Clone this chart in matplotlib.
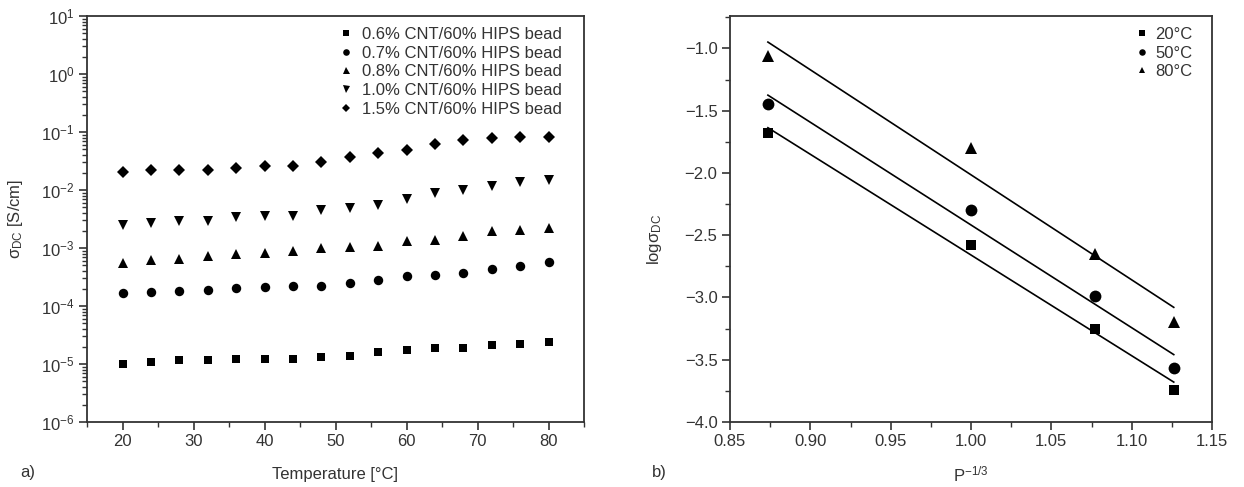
import numpy as np
import matplotlib
matplotlib.use("Agg")
import matplotlib.pyplot as plt
from matplotlib.ticker import MultipleLocator, LogLocator, NullFormatter

plt.rcParams['font.family'] = ['Liberation Sans', 'DejaVu Sans']
plt.rcParams['mathtext.fontset'] = 'custom'
plt.rcParams['mathtext.rm'] = 'Liberation Sans'
plt.rcParams['mathtext.it'] = 'Liberation Sans:italic'
plt.rcParams['font.size'] = 12

TXT = '#333333'

# ---------------- data: panel a ----------------
temperature = [20, 24, 28, 32, 36, 40, 44, 48, 52, 56, 60, 64, 68, 72, 76, 80]
labels_a = ['0.6% CNT/60% HIPS bead', '0.7% CNT/60% HIPS bead', '0.8% CNT/60% HIPS bead',
            '1.0% CNT/60% HIPS bead', '1.5% CNT/60% HIPS bead']
sigma_06 = [1.02e-5, 1.07e-5, 1.16e-5, 1.16e-5, 1.21e-5, 1.23e-5, 1.23e-5, 1.33e-5,
            1.40e-5, 1.62e-5, 1.73e-5, 1.90e-5, 1.90e-5, 2.11e-5, 2.23e-5, 2.42e-5]
sigma_07 = [1.70e-4, 1.77e-4, 1.82e-4, 1.87e-4, 2.02e-4, 2.13e-4, 2.22e-4, 2.22e-4,
            2.53e-4, 2.78e-4, 3.26e-4, 3.40e-4, 3.78e-4, 4.43e-4, 4.80e-4, 5.85e-4]
sigma_08 = [5.62e-4, 6.17e-4, 6.59e-4, 7.14e-4, 7.83e-4, 8.15e-4, 8.71e-4, 9.95e-4,
            1.05e-3, 1.09e-3, 1.33e-3, 1.39e-3, 1.63e-3, 1.93e-3, 2.04e-3, 2.21e-3]
sigma_10 = [2.52e-3, 2.69e-3, 2.96e-3, 2.96e-3, 3.38e-3, 3.51e-3, 3.61e-3, 4.52e-3,
            4.90e-3, 5.59e-3, 6.91e-3, 8.78e-3, 1.00e-2, 1.19e-2, 1.36e-2, 1.46e-2]
sigma_15 = [2.03e-2, 2.17e-2, 2.17e-2, 2.17e-2, 2.38e-2, 2.58e-2, 2.64e-2, 3.02e-2,
            3.78e-2, 4.32e-2, 4.94e-2, 6.10e-2, 7.34e-2, 7.85e-2, 8.17e-2, 8.17e-2]

# ---------------- data: panel b ----------------
p_inv3 = [0.8736, 1.0, 1.0772, 1.1262]
labels_b = ['20°C', '50°C', '80°C']
log_20 = [-1.683, -2.58, -3.25, -3.746]
log_50 = [-1.447, -2.30, -2.99, -3.57]
log_80 = [-1.06, -1.80, -2.65, -3.20]

W, H = 1244, 487
fig = plt.figure(figsize=(W / 100, H / 100), dpi=100)

def px_axes(x0, y0, x1, y1):
    return fig.add_axes([x0 / W, 1 - y1 / H, (x1 - x0) / W, (y1 - y0) / H])

axa = px_axes(87, 16, 584, 422)
axb = px_axes(730, 16, 1212, 422)

def style(ax):
    for s in ax.spines.values():
        s.set_color('#333333')
        s.set_linewidth(1.3)
    ax.tick_params(which='both', direction='out', top=False, right=False,
                   colors='#333333', labelcolor=TXT, labelsize=12)
    ax.tick_params(which='major', length=6, width=1.2, pad=3)
    ax.tick_params(which='minor', length=3.5, width=1.0)

# ---------- panel a ----------
markers_a = [('s', 5.8), ('o', 6.8), ('^', 7.2), ('v', 7.2), ('D', 6.3)]
series_a = [sigma_06, sigma_07, sigma_08, sigma_10, sigma_15]
for vals, (m, ms), lab in zip(series_a, markers_a, labels_a):
    axa.plot(temperature, vals, linestyle='none', marker=m, ms=ms, color='black',
             markeredgewidth=0, label=lab)
axa.set_yscale('log')
axa.set_xlim(15, 85)
axa.set_ylim(1e-6, 1e1)
axa.xaxis.set_major_locator(MultipleLocator(10))
axa.xaxis.set_minor_locator(MultipleLocator(5))
axa.yaxis.set_major_locator(LogLocator(base=10, numticks=20))
axa.yaxis.set_minor_locator(LogLocator(base=10, subs=np.arange(2, 10), numticks=20))
axa.yaxis.set_minor_formatter(NullFormatter())
style(axa)
axa.set_xlabel('Temperature [°C]', color=TXT, fontsize=12)
axa.xaxis.set_label_coords(0.5, -0.11)
axa.set_ylabel(r'σ$_{\mathrm{DC}}$ [S/cm]', color=TXT, fontsize=12)
axa.yaxis.set_label_coords(-0.124, 0.5)
axa.legend(loc='upper right', bbox_to_anchor=(0.956, 0.973), frameon=False,
           borderaxespad=0, borderpad=0, labelspacing=0.22, handlelength=1.0,
           handletextpad=0.5, markerscale=0.7, fontsize=12, labelcolor=TXT)

# ---------- panel b ----------
markers_b = [('s', 7.5), ('o', 8.5), ('^', 9)]
series_b = [log_20, log_50, log_80]
xs = np.array(p_inv3)
for vals, (m, ms), lab in zip(series_b, markers_b, labels_b):
    axb.plot(p_inv3, vals, linestyle='none', marker=m, ms=ms, color='black',
             markeredgewidth=0, label=lab, zorder=3)
    k, b = np.polyfit(xs, np.array(vals), 1)
    xl = np.array([xs.min(), xs.max()])
    axb.plot(xl, k * xl + b, color='black', lw=1.2, zorder=2)
axb.set_xlim(0.85, 1.15)
axb.set_ylim(-4.0, -0.74)
axb.xaxis.set_major_locator(MultipleLocator(0.05))
axb.xaxis.set_minor_locator(MultipleLocator(0.025))
axb.yaxis.set_major_locator(MultipleLocator(0.5))
axb.yaxis.set_minor_locator(MultipleLocator(0.25))
axb.xaxis.set_major_formatter(matplotlib.ticker.FormatStrFormatter('%.2f'))
axb.yaxis.set_major_formatter(matplotlib.ticker.FuncFormatter(
    lambda v, p: ('\u2212%.1f' % abs(v)) if v < 0 else '%.1f' % v))
style(axb)
axb.set_xlabel(r'P$^{-1/3}$', color=TXT, fontsize=12)
axb.xaxis.set_label_coords(0.5, -0.105)
axb.set_ylabel(r'logσ$_{\mathrm{DC}}$', color=TXT, fontsize=12)
axb.yaxis.set_label_coords(-0.137, 0.45)
axb.legend(loc='upper right', bbox_to_anchor=(0.96, 0.973), frameon=False,
           borderaxespad=0, borderpad=0, labelspacing=0.22, handlelength=1.0,
           handletextpad=0.3, markerscale=0.55, fontsize=12, labelcolor=TXT)

fig.text(20 / W, 1 - 472 / H, 'a)', color=TXT, fontsize=12, va='center', ha='left')
fig.text(652 / W, 1 - 472 / H, 'b)', color=TXT, fontsize=12, va='center', ha='left')

fig.savefig('out.png', dpi=100, facecolor='white')
